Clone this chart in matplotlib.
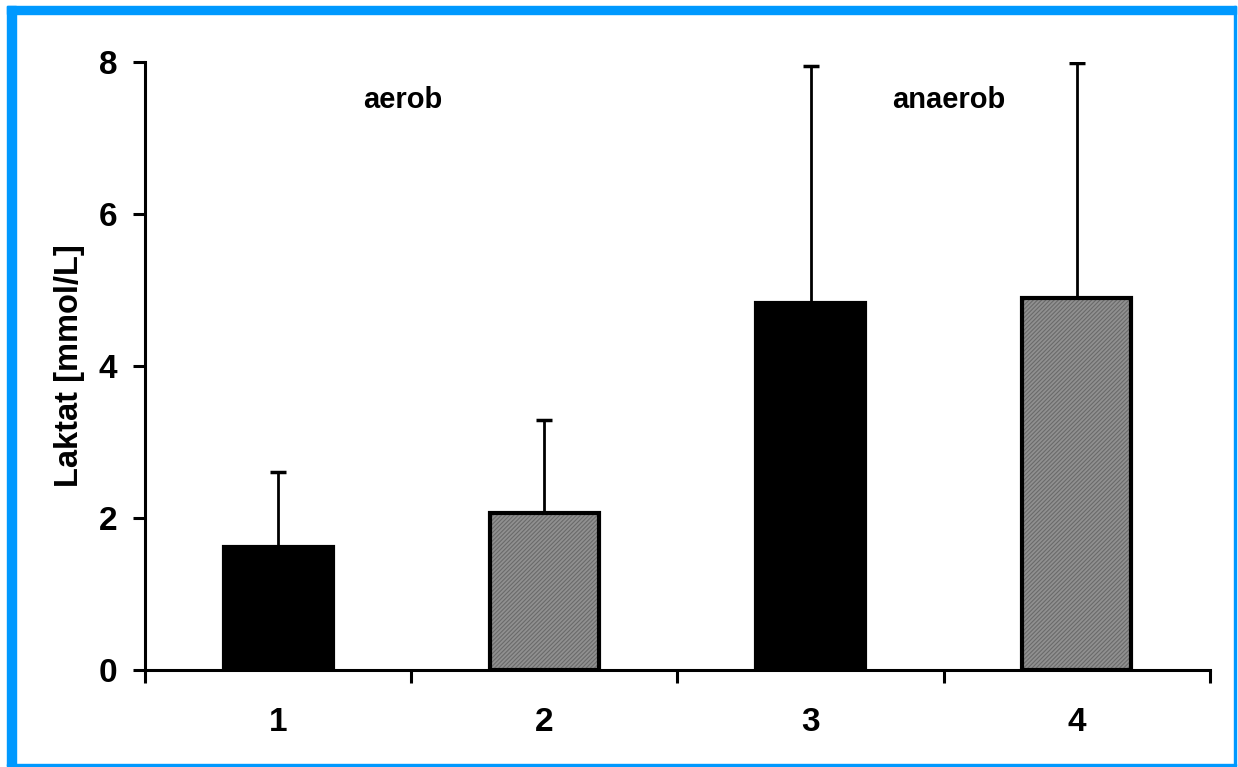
import matplotlib
matplotlib.use("Agg")
import matplotlib.pyplot as plt
from matplotlib.patches import Rectangle

plt.rcParams['font.family'] = ['Liberation Sans', 'DejaVu Sans']
plt.rcParams['font.weight'] = 'bold'
plt.rcParams['hatch.linewidth'] = 0.8

# data
groups = [1, 2, 3, 4]
means = [1.62, 2.07, 4.83, 4.89]
sd_up = [0.98, 1.22, 3.12, 3.10]
styles = ['black', 'gray', 'black', 'gray']
notes = ['aerob', 'anaerob']
note_x = [1.47, 3.52]
note_y = 7.5

fig = plt.figure(figsize=(12.38, 7.67), dpi=100)
ax = fig.add_axes([0.1171, 0.1265, 0.8603, 0.7927])

w = 0.41
for x, m, s, st in zip(groups, means, sd_up, styles):
    if st == 'black':
        ax.bar(x, m, width=w, color='black', edgecolor='black', linewidth=3, zorder=2)
    else:
        ax.bar(x, m, width=w, color='#909090', edgecolor='#6a6a6a', hatch='////////',
               linewidth=0, zorder=2)
        ax.bar(x, m, width=w, color='none', edgecolor='black', linewidth=3, zorder=3)
    ax.errorbar(x, m, yerr=[[0], [s]], fmt='none', ecolor='black', elinewidth=2,
                capsize=6, capthick=2.5, zorder=1)

for t, xx in zip(notes, note_x):
    ax.text(xx, note_y, t, ha='center', va='center', fontsize=21, fontweight='bold')

ax.set_xlim(0.5, 4.5)
ax.set_ylim(0, 8)
ax.set_yticks([0, 2, 4, 6, 8])
ax.set_xticks([0.5, 1.5, 2.5, 3.5, 4.5])
ax.set_xticklabels([])
ax.set_xticks(groups, minor=True)
ax.set_xticklabels([str(g) for g in groups], minor=True)
ax.tick_params(axis='x', which='major', direction='out', length=9, width=2.2)
ax.tick_params(axis='x', which='minor', length=0, pad=27, labelsize=24)
ax.tick_params(axis='y', direction='out', length=9, width=2.2, pad=11, labelsize=24)
ax.set_ylabel('Laktat [mmol/L]', fontsize=23.5, fontweight='bold', labelpad=10)

for side in ['top', 'right']:
    ax.spines[side].set_visible(False)
for side in ['left', 'bottom']:
    ax.spines[side].set_linewidth(2.2)

# blue frame around the picture
W, H = 1238, 767
blue = '#0099ff'
fig.patches.append(Rectangle((7 / W, 1 - 14 / H), (1236 - 7) / W, 8 / H,
                             transform=fig.transFigure, color=blue))
fig.patches.append(Rectangle((7 / W, 1 - 766 / H), 9 / W, (766 - 6) / H,
                             transform=fig.transFigure, color=blue))
fig.patches.append(Rectangle((7 / W, 1 - 766 / H), (1236 - 7) / W, 2 / H,
                             transform=fig.transFigure, color=blue))
fig.patches.append(Rectangle((1234 / W, 1 - 766 / H), 2 / W, (766 - 6) / H,
                             transform=fig.transFigure, color=blue))

fig.savefig('out.png', dpi=100)
